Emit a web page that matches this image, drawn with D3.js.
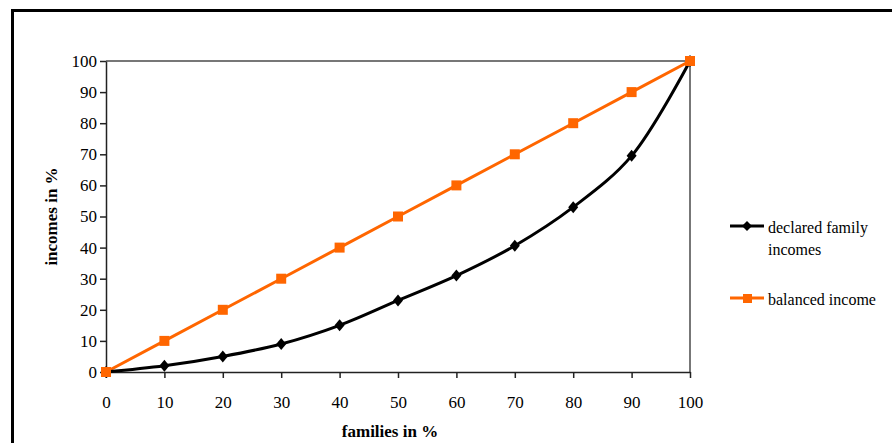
<!DOCTYPE html>
<html lang="en">
<script src="https://d3js.org/d3.v7.min.js"></script>
<style>
    body {margin: 0; background: white;}
    text {font-family: "Liberation Serif", "Times New Roman", serif; fill: black;}
    .axis path, .axis line {stroke: #222; stroke-width: 1.5px;}
    .title {font-size: 17px; font-weight: bold; text-anchor: middle;}
    .legend text {font-size: 16px;}
</style>
<body>
    <svg width="892" height="443"></svg>
</body>
<script>
    var families = [0, 10, 20, 30, 40, 50, 60, 70, 80, 90, 100];
    var declared = [0, 2, 5, 9, 15, 23, 31, 40.6, 53, 69.5, 100];
    var balanced = [0, 10, 20, 30, 40, 50, 60, 70, 80, 90, 100];
    var xTicks = [0, 10, 20, 30, 40, 50, 60, 70, 80, 90, 100];
    var yTicks = [0, 10, 20, 30, 40, 50, 60, 70, 80, 90, 100];

    var svg = d3.select("svg");
    var serif = "Liberation Serif, Times New Roman, serif";

    // outer chart border, runs off the right and bottom edges
    svg.append("rect")
        .attr("x", 12.5).attr("y", 10.5)
        .attr("width", 1000).attr("height", 1000)
        .attr("fill", "white").attr("stroke", "black").attr("stroke-width", 3);

    var x = d3.scaleLinear().domain([0, 100]).range([106, 690]);
    var y = d3.scaleLinear().domain([0, 100]).range([372, 61]);

    // plot area frame (top and right in grey)
    svg.append("path")
        .attr("d", "M" + x(0) + "," + y(100) + "H" + x(100) + "V" + y(0))
        .attr("fill", "none").attr("stroke", "#777").attr("stroke-width", 2);

    var xAxis = svg.append("g").attr("class", "axis")
        .attr("transform", "translate(0," + y(0) + ")")
        .call(d3.axisBottom(x).tickValues(xTicks).tickSize(6).tickSizeOuter(0))
        .attr("font-family", serif).attr("font-size", 17);
    xAxis.selectAll("text").attr("y", 36).attr("dy", 0);

    var yAxis = svg.append("g").attr("class", "axis")
        .attr("transform", "translate(" + x(0) + ",0)")
        .call(d3.axisLeft(y).tickValues(yTicks).tickSize(6).tickSizeOuter(0).tickPadding(3))
        .attr("font-family", serif).attr("font-size", 17);

    svg.append("text").attr("class", "title")
        .attr("x", 390).attr("y", 437)
        .text("families in %");

    svg.append("text").attr("class", "title")
        .attr("transform", "translate(57," + ((y(0) + y(100)) / 2) + ") rotate(-90)")
        .text("incomes in %");

    var balancedPts = families.map(function(f, i){return [f, balanced[i]];});
    var declaredPts = families.map(function(f, i){return [f, declared[i]];});

    svg.append("path").datum(balancedPts)
        .attr("d", d3.line().x(function(d){return x(d[0]);}).y(function(d){return y(d[1]);}))
        .attr("fill", "none").attr("stroke", "#FF6600").attr("stroke-width", 3);

    svg.append("path").datum(declaredPts)
        .attr("d", d3.line().x(function(d){return x(d[0]);}).y(function(d){return y(d[1]);}).curve(d3.curveCatmullRom))
        .attr("fill", "none").attr("stroke", "black").attr("stroke-width", 3);

    var diamond = "M0,-6L5,0L0,6L-5,0Z";

    svg.selectAll(".dmark").data(declaredPts).enter().append("path")
        .attr("class", "dmark")
        .attr("d", diamond)
        .attr("transform", function(d){return "translate(" + x(d[0]) + "," + y(d[1]) + ")";})
        .attr("fill", "black");

    svg.selectAll(".smark").data(balancedPts).enter().append("rect")
        .attr("class", "smark")
        .attr("x", function(d){return x(d[0]) - 5;})
        .attr("y", function(d){return y(d[1]) - 5;})
        .attr("width", 10).attr("height", 10)
        .attr("fill", "#FF6600");

    // legend
    var legend = svg.append("g").attr("class", "legend");
    legend.append("line").attr("x1", 730).attr("x2", 764).attr("y1", 226).attr("y2", 226)
        .attr("stroke", "black").attr("stroke-width", 3);
    legend.append("path").attr("d", "M0,-5L5,0L0,5L-5,0Z")
        .attr("transform", "translate(747,226)").attr("fill", "black");
    legend.append("text").attr("x", 768).attr("y", 233).text("declared family");
    legend.append("text").attr("x", 768).attr("y", 255).text("incomes");

    legend.append("line").attr("x1", 730).attr("x2", 764).attr("y1", 298).attr("y2", 298)
        .attr("stroke", "#FF6600").attr("stroke-width", 3);
    legend.append("rect").attr("x", 743).attr("y", 294).attr("width", 9).attr("height", 9)
        .attr("fill", "#FF6600");
    legend.append("text").attr("x", 768).attr("y", 305).text("balanced income");
</script>
</html>
